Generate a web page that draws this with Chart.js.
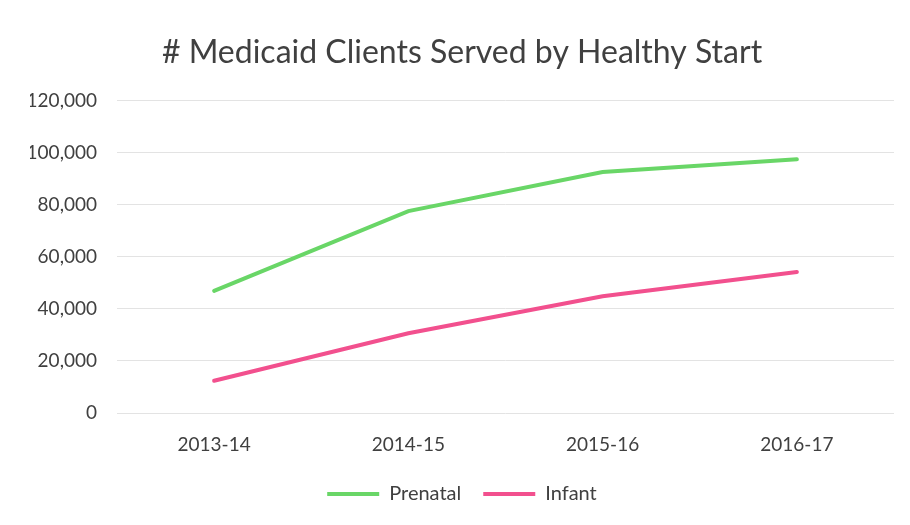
<!DOCTYPE html>
<html>
<head>
<meta charset="utf-8">
<script src="https://cdn.jsdelivr.net/npm/chart.js@4/dist/chart.umd.min.js"></script>
<style>
  html, body { margin: 0; padding: 0; background: #fff; }
  #wrap { width: 910px; height: 525px; }
</style>
</head>
<body>
<div id="wrap"><canvas id="chart" width="910" height="525"></canvas></div>
<script>
const years = ["2013-14", "2014-15", "2015-16", "2016-17"];
const prenatal = [46900, 77500, 92500, 97400];
const infant = [12400, 30600, 44800, 54100];
const yTicks = [0, 20000, 40000, 60000, 80000, 100000, 120000];

const FONT = "Lato, 'Open Sans', sans-serif";
const GREEN = "#69d667";
const PINK = "#f2508e";

const ctx = document.getElementById("chart").getContext("2d");
new Chart(ctx, {
  type: "line",
  data: {
    labels: years,
    datasets: [
      {
        label: "Prenatal",
        data: prenatal,
        borderColor: GREEN,
        backgroundColor: GREEN,
        borderWidth: 4,
        borderCapStyle: "round",
        pointRadius: 0,
        tension: 0,
      },
      {
        label: "Infant",
        data: infant,
        borderColor: PINK,
        backgroundColor: PINK,
        borderWidth: 4,
        borderCapStyle: "round",
        pointRadius: 0,
        tension: 0,
      },
    ],
  },
  options: {
    responsive: false,
    animation: false,
    layout: { padding: { left: 30, right: 16, top: 20, bottom: 11 } },
    plugins: {
      title: {
        display: true,
        text: "# Medicaid Clients Served by Healthy Start",
        color: "#404040",
        font: { family: FONT, size: 32, weight: "normal" },
        padding: { top: 13, bottom: 29 },
      },
      legend: {
        position: "bottom",
        labels: {
          color: "#404040",
          font: { family: FONT, size: 20 },
          boxWidth: 52,
          boxHeight: 4,
          padding: 22,
          generateLabels: (chart) =>
            Chart.defaults.plugins.legend.labels.generateLabels(chart).map((l) => ({ ...l, lineWidth: 0 })),
        },
      },
      tooltip: { enabled: false },
    },
    scales: {
      x: {
        offset: true,
        grid: { display: false },
        border: { display: false },
        ticks: { color: "#404040", font: { family: FONT, size: 19 }, padding: 12, maxRotation: 0 },
        afterFit: (axis) => { axis.height = 49; },
      },
      y: {
        min: 0,
        max: 120000,
        afterBuildTicks: (axis) => { axis.ticks = yTicks.map((v) => ({ value: v })); },
        afterFit: (axis) => { axis.width = 87; },
        grid: { color: "#e3e3e3", lineWidth: 1, drawTicks: false },
        border: { display: false },
        ticks: {
          color: "#404040",
          font: { family: FONT, size: 19 },
          padding: 20,
          callback: (v) => v.toLocaleString("en-US"),
        },
      },
    },
  },
});
</script>
</body>
</html>
